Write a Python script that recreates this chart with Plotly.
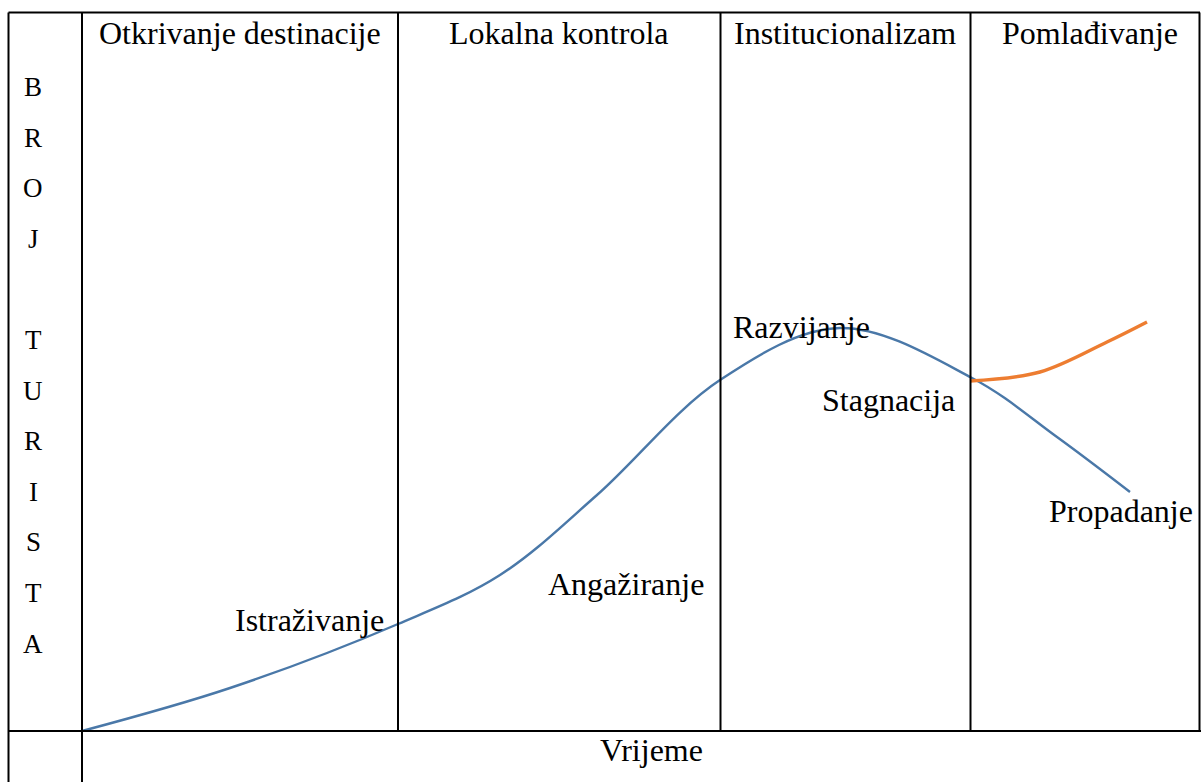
import plotly.graph_objects as go

# Phase headers (top row) and their centres
phases = ["Otkrivanje destinacije", "Lokalna kontrola", "Institucionalizam", "Pomlađivanje"]
phase_x = [240, 558, 845, 1090]

# Vertical axis label letters
ylabel_letters = ["B", "R", "O", "J", "", "T", "U", "R", "I", "S", "T", "A"]

# Stage labels
stages = ["Istraživanje", "Angažiranje", "Razvijanje", "Stagnacija", "Propadanje"]
stage_x = [309, 626, 801, 888, 1121]
stage_y = [620, 584, 327, 400, 511]

# Main life-cycle curve (time -> number of tourists)
time_main = [82, 230, 398, 500, 597, 720, 840, 972, 1057, 1130]
tourists_main = [731, 688, 624, 575, 495, 380, 328, 378, 437, 492]

# Rejuvenation branch
time_rejuv = [970, 1040, 1107, 1147]
tourists_rejuv = [381, 372, 342, 322]

FONT = "Liberation Serif"
W, H = 1201, 782

fig = go.Figure()
fig.add_trace(go.Scatter(x=time_main, y=tourists_main, mode="lines",
                         line=dict(color="#4a78a8", width=2.4, shape="spline", smoothing=1.0),
                         hoverinfo="skip", showlegend=False))
fig.add_trace(go.Scatter(x=time_rejuv, y=tourists_rejuv, mode="lines",
                         line=dict(color="#ed7d31", width=3.4, shape="spline", smoothing=1.0),
                         hoverinfo="skip", showlegend=False))

# Table grid
lw = 2
line = dict(color="black", width=lw)
shapes = [
    dict(type="line", x0=8.5, x1=1200, y0=12.5, y1=12.5, line=line),      # top
    dict(type="line", x0=8.5, x1=1201, y0=731, y1=731, line=line),       # row separator
    dict(type="line", x0=8.5, x1=8.5, y0=12.5, y1=782, line=line),        # left
    dict(type="line", x0=82, x1=82, y0=12.5, y1=782, line=line),          # label column
    dict(type="line", x0=398, x1=398, y0=12.5, y1=731, line=line),
    dict(type="line", x0=720.5, x1=720.5, y0=12.5, y1=731, line=line),
    dict(type="line", x0=970.5, x1=970.5, y0=12.5, y1=731, line=line),
    dict(type="line", x0=1199.5, x1=1199.5, y0=12.5, y1=731, line=line),  # right
]

annotations = []
fs = 32
for name, x in zip(phases, phase_x):
    annotations.append(dict(x=x, y=33, text=name, showarrow=False,
                            font=dict(family=FONT, size=fs, color="black"),
                            xanchor="center", yanchor="middle"))
for i, ch in enumerate(ylabel_letters):
    if ch:
        annotations.append(dict(x=33, y=87 + i * 50.6, text=ch, showarrow=False,
                                font=dict(family=FONT, size=27, color="black"),
                                xanchor="center", yanchor="middle"))
for name, x, y in zip(stages, stage_x, stage_y):
    annotations.append(dict(x=x, y=y, text=name, showarrow=False,
                            font=dict(family=FONT, size=fs, color="black"),
                            xanchor="center", yanchor="middle"))
annotations.append(dict(x=651, y=750, text="Vrijeme", showarrow=False,
                        font=dict(family=FONT, size=fs, color="black"),
                        xanchor="center", yanchor="middle"))

fig.update_layout(
    width=W, height=H,
    margin=dict(l=0, r=0, t=0, b=0),
    paper_bgcolor="white", plot_bgcolor="white",
    xaxis=dict(range=[0, W], visible=False, fixedrange=True),
    yaxis=dict(range=[H, 0], visible=False, fixedrange=True),
    shapes=shapes, annotations=annotations,
    showlegend=False,
)

fig.write_html("out.html", config={"displayModeBar": False},
               post_script="document.body.style.margin='0';document.body.style.overflow='hidden';")
